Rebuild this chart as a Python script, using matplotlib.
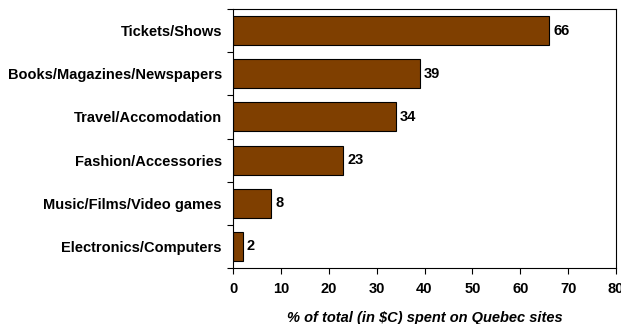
import matplotlib
matplotlib.use("Agg")
import matplotlib.pyplot as plt
import numpy as np

categories = ["Tickets/Shows", "Books/Magazines/Newspapers", "Travel/Accomodation",
              "Fashion/Accessories", "Music/Films/Video games", "Electronics/Computers"]
values = [66, 39, 34, 23, 8, 2]
xticks = [0, 10, 20, 30, 40, 50, 60, 70, 80]

plt.rcParams["font.family"] = "Liberation Sans"
plt.rcParams["font.weight"] = "bold"
fs = 10.5

fig = plt.figure(figsize=(6.21, 3.24), dpi=100)
ax = fig.add_axes([233 / 621, 1 - 268 / 324, 383 / 621, 259 / 324])

pos = np.arange(len(categories))[::-1]
ax.barh(pos, values, height=0.67, color="#7F3F00", edgecolor="black", linewidth=0.8)
for p, v in zip(pos, values):
    ax.text(v + 0.9, p, str(v), va="center", ha="left", fontsize=fs, fontweight="bold")

ax.set_xlim(0, 80)
ax.set_ylim(-0.5, len(categories) - 0.5)
ax.set_xticks(xticks)
ax.set_xticklabels([str(t) for t in xticks], fontsize=fs, fontweight="bold")
ax.set_yticks(pos)
ax.set_yticklabels(categories, fontsize=fs, fontweight="bold")
ax.tick_params(axis="y", which="major", length=0, pad=8)
ax.set_yticks(np.arange(-0.5, len(categories), 1), minor=True)
ax.tick_params(axis="y", which="minor", length=4, direction="out", width=0.8)
ax.tick_params(axis="x", length=4, direction="out", width=0.8, pad=6)
for s in ax.spines.values():
    s.set_linewidth(0.8)

ax.set_xlabel("% of total (in $C) spent on Quebec sites", fontsize=fs,
              fontweight="bold", style="italic", labelpad=11)

fig.savefig("out.png", dpi=100)
